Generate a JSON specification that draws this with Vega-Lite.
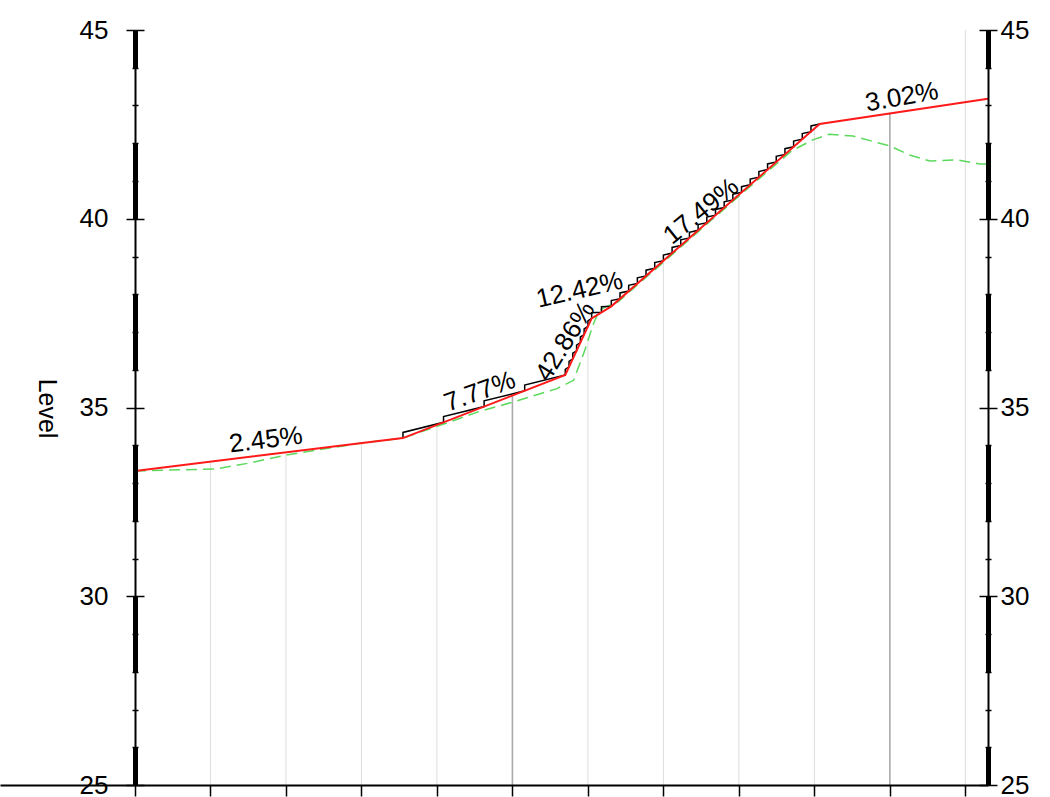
{
  "$schema": "https://vega.github.io/schema/vega-lite/v6.json",
  "width": 988,
  "height": 755,
  "autosize": "none",
  "padding": {"left": 0, "top": 30, "right": 62, "bottom": 12},
  "background": "white",
  "datasets": {
    "grid": [
      {"x": 10, "top": 33.57, "kind": "minor"},
      {"x": 20, "top": 33.81, "kind": "minor"},
      {"x": 30, "top": 34.05, "kind": "minor"},
      {"x": 40, "top": 34.54, "kind": "minor"},
      {"x": 50, "top": 35.32, "kind": "major"},
      {"x": 60, "top": 36.85, "kind": "minor"},
      {"x": 70, "top": 38.89, "kind": "minor"},
      {"x": 80, "top": 40.64, "kind": "minor"},
      {"x": 90, "top": 42.38, "kind": "minor"},
      {"x": 100, "top": 42.8, "kind": "major"},
      {"x": 110, "top": 45, "kind": "minor"}
    ],
    "design": [
      {"x": 0, "y": 33.32},
      {"x": 35.5, "y": 34.19},
      {"x": 57.0, "y": 35.86},
      {"x": 60.5, "y": 37.36},
      {"x": 63.1, "y": 37.68},
      {"x": 90.7, "y": 42.51},
      {"x": 113, "y": 43.18}
    ],
    "ground": [
      {"x": 0, "y": 33.32},
      {"x": 4, "y": 33.34},
      {"x": 10.6, "y": 33.37},
      {"x": 15.2, "y": 33.53},
      {"x": 20, "y": 33.74},
      {"x": 30, "y": 34.06},
      {"x": 35.5, "y": 34.19},
      {"x": 40, "y": 34.5},
      {"x": 45.7, "y": 34.9},
      {"x": 50, "y": 35.14},
      {"x": 55.9, "y": 35.5},
      {"x": 58.1, "y": 35.72},
      {"x": 59.6, "y": 36.52},
      {"x": 60.7, "y": 37.2},
      {"x": 61.5, "y": 37.58},
      {"x": 62.5, "y": 37.68},
      {"x": 64, "y": 37.8},
      {"x": 70, "y": 38.85},
      {"x": 80, "y": 40.6},
      {"x": 87, "y": 41.8},
      {"x": 89.8, "y": 42.09},
      {"x": 92, "y": 42.24},
      {"x": 95.1, "y": 42.19},
      {"x": 100, "y": 41.93},
      {"x": 102.6, "y": 41.69},
      {"x": 105.3, "y": 41.53},
      {"x": 108.9, "y": 41.56},
      {"x": 111.9, "y": 41.45},
      {"x": 113, "y": 41.45}
    ],
    "steps": [
      {"o": 0, "x": 35.5, "y": 34.19}, {"o": 1, "x": 35.5, "y": 34.34},
      {"o": 2, "x": 40.875, "y": 34.608}, {"o": 3, "x": 40.875, "y": 34.758},
      {"o": 4, "x": 46.25, "y": 35.025}, {"o": 5, "x": 46.25, "y": 35.175},
      {"o": 6, "x": 51.625, "y": 35.443}, {"o": 7, "x": 51.625, "y": 35.593},
      {"o": 8, "x": 57.0, "y": 35.86}, {"o": 9, "x": 57.0, "y": 36.01},
      {"o": 10, "x": 57.5, "y": 36.074}, {"o": 11, "x": 57.5, "y": 36.224},
      {"o": 12, "x": 58.0, "y": 36.289}, {"o": 13, "x": 58.0, "y": 36.439},
      {"o": 14, "x": 58.5, "y": 36.503}, {"o": 15, "x": 58.5, "y": 36.653},
      {"o": 16, "x": 59.0, "y": 36.717}, {"o": 17, "x": 59.0, "y": 36.867},
      {"o": 18, "x": 59.5, "y": 36.931}, {"o": 19, "x": 59.5, "y": 37.081},
      {"o": 20, "x": 60.0, "y": 37.146}, {"o": 21, "x": 60.0, "y": 37.296},
      {"o": 22, "x": 60.5, "y": 37.36}, {"o": 23, "x": 60.5, "y": 37.51},
      {"o": 24, "x": 61.8, "y": 37.521}, {"o": 25, "x": 61.8, "y": 37.671},
      {"o": 26, "x": 63.1, "y": 37.683}, {"o": 27, "x": 63.1, "y": 37.833},
      {"o": 28, "x": 64.25, "y": 37.884}, {"o": 29, "x": 64.25, "y": 38.034},
      {"o": 30, "x": 65.4, "y": 38.085}, {"o": 31, "x": 65.4, "y": 38.235},
      {"o": 32, "x": 66.55, "y": 38.286}, {"o": 33, "x": 66.55, "y": 38.436},
      {"o": 34, "x": 67.7, "y": 38.487}, {"o": 35, "x": 67.7, "y": 38.637},
      {"o": 36, "x": 68.85, "y": 38.689}, {"o": 37, "x": 68.85, "y": 38.839},
      {"o": 38, "x": 70.0, "y": 38.89}, {"o": 39, "x": 70.0, "y": 39.04},
      {"o": 40, "x": 71.15, "y": 39.091}, {"o": 41, "x": 71.15, "y": 39.241},
      {"o": 42, "x": 72.3, "y": 39.292}, {"o": 43, "x": 72.3, "y": 39.442},
      {"o": 44, "x": 73.45, "y": 39.493}, {"o": 45, "x": 73.45, "y": 39.643},
      {"o": 46, "x": 74.6, "y": 39.694}, {"o": 47, "x": 74.6, "y": 39.844},
      {"o": 48, "x": 75.75, "y": 39.895}, {"o": 49, "x": 75.75, "y": 40.045},
      {"o": 50, "x": 76.9, "y": 40.096}, {"o": 51, "x": 76.9, "y": 40.246},
      {"o": 52, "x": 78.05, "y": 40.297}, {"o": 53, "x": 78.05, "y": 40.447},
      {"o": 54, "x": 79.2, "y": 40.498}, {"o": 55, "x": 79.2, "y": 40.648},
      {"o": 56, "x": 80.35, "y": 40.7}, {"o": 57, "x": 80.35, "y": 40.85},
      {"o": 58, "x": 81.5, "y": 40.901}, {"o": 59, "x": 81.5, "y": 41.051},
      {"o": 60, "x": 82.65, "y": 41.102}, {"o": 61, "x": 82.65, "y": 41.252},
      {"o": 62, "x": 83.8, "y": 41.303}, {"o": 63, "x": 83.8, "y": 41.453},
      {"o": 64, "x": 84.95, "y": 41.504}, {"o": 65, "x": 84.95, "y": 41.654},
      {"o": 66, "x": 86.1, "y": 41.705}, {"o": 67, "x": 86.1, "y": 41.855},
      {"o": 68, "x": 87.25, "y": 41.906}, {"o": 69, "x": 87.25, "y": 42.056},
      {"o": 70, "x": 88.4, "y": 42.107}, {"o": 71, "x": 88.4, "y": 42.257},
      {"o": 72, "x": 89.55, "y": 42.308}, {"o": 73, "x": 89.55, "y": 42.458},
      {"o": 74, "x": 90.7, "y": 42.509}
    ],
    "grades": [
      {"label": "2.45%", "x": 17.35, "y": 34.14},
      {"label": "7.77%", "x": 45.7, "y": 35.42},
      {"label": "42.86%", "x": 57.0, "y": 36.75},
      {"label": "12.42%", "x": 58.9, "y": 38.11},
      {"label": "17.49%", "x": 75.0, "y": 40.2},
      {"label": "3.02%", "x": 101.6, "y": 43.22}
    ]
  },
  "resolve": {"axis": {"y": "independent"}},
  "layer": [
    {
      "data": {"name": "grid"},
      "mark": {"type": "rule"},
      "encoding": {
        "x": {
          "field": "x",
          "type": "quantitative",
          "scale": {"domain": [-17.88, 113], "nice": false, "zero": false},
          "axis": {
            "orient": "bottom",
            "values": [0, 10, 20, 30, 40, 50, 60, 70, 80, 90, 100, 110],
            "labels": false,
            "title": null,
            "grid": false,
            "tickSize": 11,
            "tickWidth": 1.5,
            "tickColor": "black",
            "domainColor": "black",
            "domainWidth": 2,
            "zindex": 1
          }
        },
        "y": {
          "field": "top",
          "type": "quantitative",
          "scale": {"domain": [25, 45], "nice": false, "zero": false},
          "axis": {
            "orient": "left",
            "offset": -135,
            "values": [25, 26, 27, 28, 29, 30, 31, 32, 33, 34, 35, 36, 37, 38, 39, 40, 41, 42, 43, 44, 45],
            "labelExpr": "datum.value % 5 === 0 ? datum.label : ''",
            "tickSize": {"expr": "datum.value % 5 === 0 ? 9 : 3"},
            "tickWidth": 1.5,
            "tickColor": "black",
            "domainColor": "black",
            "domainWidth": 2,
            "grid": false,
            "labelFont": "Liberation Sans",
            "labelFontSize": 26,
            "labelColor": "black",
            "labelPadding": 18,
            "labelOverlap": false,
            "labelBound": false,
            "labelFlush": false,
            "title": "Level",
            "titleFont": "Liberation Sans",
            "titleFontSize": 25,
            "titleFontWeight": "normal",
            "titleColor": "black",
            "titleAngle": 90,
            "titleAlign": "center",
            "titleBaseline": "middle",
            "titleX": -89,
            "titleY": 378,
            "zindex": 1
          }
        },
        "y2": {"datum": 25},
        "color": {
          "field": "kind",
          "type": "nominal",
          "scale": {"domain": ["minor", "major"], "range": ["#dddddd", "#aaaaaa"]},
          "legend": null
        },
        "strokeWidth": {
          "field": "kind",
          "type": "nominal",
          "scale": {"domain": ["minor", "major"], "range": [1, 1.6]},
          "legend": null
        }
      }
    },
    {
      "data": {"name": "ground"},
      "mark": {"type": "line", "color": "#5cd95c", "strokeWidth": 1.5, "strokeDash": [11, 6]},
      "encoding": {
        "x": {"field": "x", "type": "quantitative"},
        "y": {
          "field": "y",
          "type": "quantitative",
          "axis": {
            "orient": "left",
            "offset": -135,
            "values": [25, 26, 27, 28, 29, 30, 31, 32, 33, 34, 35, 36, 37, 38, 39, 40, 41, 42, 43, 44, 45],
            "labels": false,
            "title": null,
            "grid": false,
            "tickSize": {"expr": "datum.value % 5 === 0 ? -9 : -3"},
            "tickWidth": 1.5,
            "tickColor": "black",
            "domainColor": "black",
            "domainWidth": 5,
            "domainDash": [75.5, 75.5],
            "domainDashOffset": 37.75,
            "zindex": 1
          }
        }
      }
    },
    {
      "data": {"name": "steps"},
      "mark": {"type": "line", "color": "black", "strokeWidth": 1.5},
      "encoding": {
        "x": {"field": "x", "type": "quantitative"},
        "order": {"field": "o", "type": "quantitative"},
        "y": {
          "field": "y",
          "type": "quantitative",
          "axis": {
            "orient": "right",
            "offset": 0,
            "values": [25, 26, 27, 28, 29, 30, 31, 32, 33, 34, 35, 36, 37, 38, 39, 40, 41, 42, 43, 44, 45],
            "labelExpr": "datum.value % 5 === 0 ? datum.label : ''",
            "tickSize": {"expr": "datum.value % 5 === 0 ? 9 : 3"},
            "tickWidth": 1.5,
            "tickColor": "black",
            "domainColor": "black",
            "domainWidth": 2,
            "grid": false,
            "labelFont": "Liberation Sans",
            "labelFontSize": 26,
            "labelColor": "black",
            "labelPadding": 3,
            "labelOverlap": false,
            "labelBound": false,
            "labelFlush": false,
            "title": null,
            "zindex": 1
          }
        }
      }
    },
    {
      "data": {"name": "design"},
      "mark": {"type": "line", "color": "#ff1a1a", "strokeWidth": 2},
      "encoding": {
        "x": {"field": "x", "type": "quantitative"},
        "y": {
          "field": "y",
          "type": "quantitative",
          "axis": {
            "orient": "right",
            "offset": 0,
            "values": [25, 26, 27, 28, 29, 30, 31, 32, 33, 34, 35, 36, 37, 38, 39, 40, 41, 42, 43, 44, 45],
            "labels": false,
            "title": null,
            "grid": false,
            "tickSize": {"expr": "datum.value % 5 === 0 ? -9 : -3"},
            "tickWidth": 1.5,
            "tickColor": "black",
            "domainColor": "black",
            "domainWidth": 5,
            "domainDash": [75.5, 75.5],
            "domainDashOffset": 37.75,
            "zindex": 1
          }
        }
      }
    },
    {
      "data": {"name": "grades"},
      "transform": [{"filter": "datum.label === '2.45%'"}],
      "mark": {"type": "text", "font": "Liberation Sans", "fontSize": 26, "color": "black", "angle": -7},
      "encoding": {"x": {"field": "x", "type": "quantitative"}, "y": {"field": "y", "type": "quantitative", "axis": null}, "text": {"field": "label"}}
    },
    {
      "data": {"name": "grades"},
      "transform": [{"filter": "datum.label === '7.77%'"}],
      "mark": {"type": "text", "font": "Liberation Sans", "fontSize": 26, "color": "black", "angle": -20},
      "encoding": {"x": {"field": "x", "type": "quantitative"}, "y": {"field": "y", "type": "quantitative", "axis": null}, "text": {"field": "label"}}
    },
    {
      "data": {"name": "grades"},
      "transform": [{"filter": "datum.label === '42.86%'"}],
      "mark": {"type": "text", "font": "Liberation Sans", "fontSize": 26, "color": "black", "angle": -58},
      "encoding": {"x": {"field": "x", "type": "quantitative"}, "y": {"field": "y", "type": "quantitative", "axis": null}, "text": {"field": "label"}}
    },
    {
      "data": {"name": "grades"},
      "transform": [{"filter": "datum.label === '12.42%'"}],
      "mark": {"type": "text", "font": "Liberation Sans", "fontSize": 26, "color": "black", "angle": -13},
      "encoding": {"x": {"field": "x", "type": "quantitative"}, "y": {"field": "y", "type": "quantitative", "axis": null}, "text": {"field": "label"}}
    },
    {
      "data": {"name": "grades"},
      "transform": [{"filter": "datum.label === '17.49%'"}],
      "mark": {"type": "text", "font": "Liberation Sans", "fontSize": 26, "color": "black", "angle": -39},
      "encoding": {"x": {"field": "x", "type": "quantitative"}, "y": {"field": "y", "type": "quantitative", "axis": null}, "text": {"field": "label"}}
    },
    {
      "data": {"name": "grades"},
      "transform": [{"filter": "datum.label === '3.02%'"}],
      "mark": {"type": "text", "font": "Liberation Sans", "fontSize": 26, "color": "black", "angle": -10},
      "encoding": {"x": {"field": "x", "type": "quantitative"}, "y": {"field": "y", "type": "quantitative", "axis": null}, "text": {"field": "label"}}
    }
  ],
  "config": {
    "view": {"stroke": null},
    "font": "Liberation Sans"
  }
}
